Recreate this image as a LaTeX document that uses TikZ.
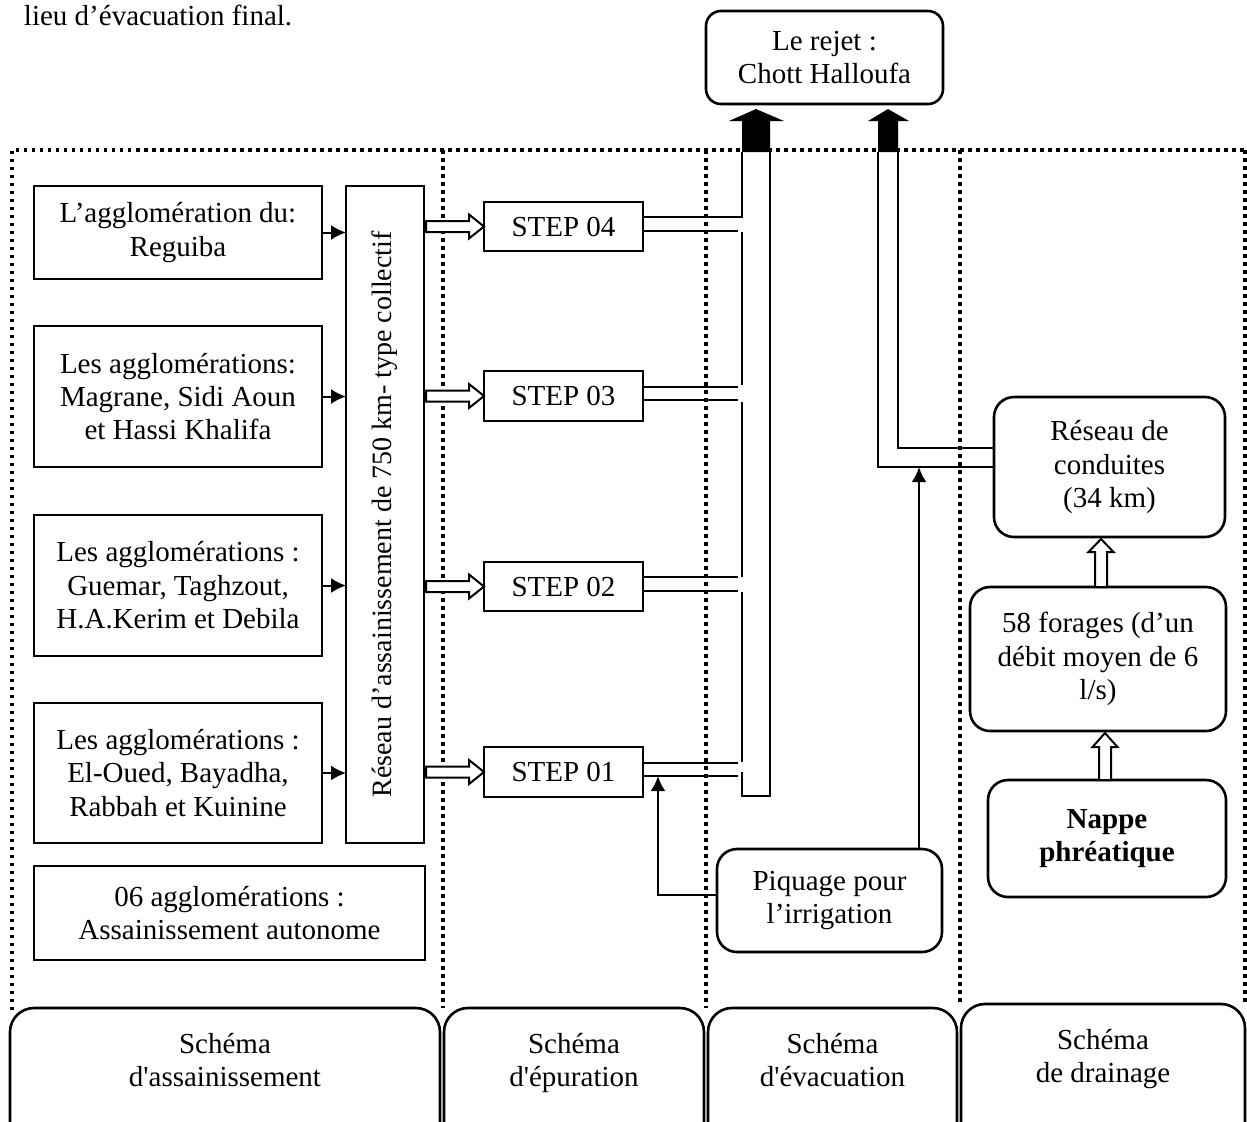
\documentclass[tikz,border=0pt]{standalone}
\usepackage{fontspec}
\setmainfont{Liberation Serif}
\usetikzlibrary{arrows.meta,calc}
\begin{document}
\begin{tikzpicture}[x=0.5pt,y=-0.5pt,
  every node/.style={font=\fontsize{14.5}{16.7}\selectfont, inner sep=0pt, outer sep=0pt, align=center},
  sq/.style={draw, line width=1pt},
  rbox/.style={draw, line width=1.3pt, rounded corners=10pt},
  frame/.style={line width=1.75pt, dash pattern=on 1.75pt off 2.25pt},
  pipe/.style={line width=1pt},
  arr/.style={line width=1.3pt, -{Latex[length=7.5pt,width=7.5pt]}},
  hollow/.style={draw, fill=white, line width=1pt},
  botbox/.style={draw, line width=1.3pt, rounded corners=12pt},
]
\useasboundingbox (0,0) rectangle (1247,1121);

% intro text
\node[anchor=base west, align=left] (intro) at (24,25) {lieu d’évacuation final.};

% dotted frame
\draw[frame] (12,1010) -- (12,150) -- (1247,150);
\draw[frame] (1245,150) -- (1245,1004);
\draw[frame] (443,150) -- (443,1008);
\draw[frame] (706,150) -- (706,1008);
\draw[frame] (960,150) -- (960,1004);

% top
\node[rbox, rounded corners=7.5pt, minimum width=118.5pt, minimum height=46.5pt] (rejet) at (824.5,57.5) {Le rejet :\\Chott Halloufa};

% left column
\node[sq, minimum width=144pt, minimum height=46.5pt] (b1) at (178,232.5) {L’agglomération du:\\Reguiba};
\node[sq, minimum width=144pt, minimum height=70.5pt] (b2) at (178,396.5) {Les agglomérations:\\Magrane, Sidi Aoun\\et Hassi Khalifa};
\node[sq, minimum width=144pt, minimum height=70.5pt] (b3) at (178,585.5) {Les agglomérations :\\Guemar, Taghzout,\\H.A.Kerim et Debila};
\node[sq, minimum width=144pt, minimum height=70pt] (b4) at (178,773) {Les agglomérations :\\El-Oued, Bayadha,\\Rabbah et Kuinine};
\node[sq, minimum width=195.5pt, minimum height=47pt] (b5) at (229.5,913) {06 agglomérations :\\Assainissement autonome};

\node[sq, minimum width=39pt, minimum height=328.5pt] (res) at (385,514.5) {};
\node[rotate=90, font=\fontsize{14}{16.7}\selectfont] (restxt) at (res.center) {Réseau d’assainissement de 750 km- type collectif};

\foreach \b in {b1,b2,b3,b4}
  \draw[arr, line width=1pt] (\b.east) -- (\b.east -| res.west);

% STEP boxes
\node[sq, minimum width=79.5pt, minimum height=24.5pt] (s4) at (563.5,226.5) {STEP 04};
\node[sq, minimum width=79.5pt, minimum height=25pt] (s3) at (563.5,396) {STEP 03};
\node[sq, minimum width=79.5pt, minimum height=24.5pt] (s2) at (563.5,586.5) {STEP 02};
\node[sq, minimum width=79.5pt, minimum height=25pt] (s1) at (563.5,772) {STEP 01};

\foreach \s in {s4,s3,s2,s1}
  \draw[hollow] ($(\s.west -| res.east)+(2,-5.5)$) -- ++(43,0) -- ++(0,-6.5) -- ++(15,12) -- ++(-15,12) -- ++(0,-6.5) -- ++(-43,0) -- cycle;

% collector 1
\draw[pipe] ($(s4.east)+(0,-9.5)$) -| (742,152);
\foreach \s in {s4,s3,s2,s1}
  \draw[pipe] ($(\s.east)+(0,4)$) -- ++(95,0);
\foreach \s in {s3,s2,s1}
  \draw[pipe] ($(\s.east)+(0,-9.5)$) -- ++(95,0);
\draw[pipe] (742,232) -- (742,385);
\draw[pipe] (742,402) -- (742,577);
\draw[pipe] (742,592) -- (742,762);
\draw[pipe] (742,772) -- (742,796) -- (770,796) -- (770,152);
\fill (742,152) -- (742,121) -- (729,121) -- (756,109) -- (784,121) -- (770,121) -- (770,152) -- cycle;

% drainage column
\node[rbox, minimum width=115.5pt, minimum height=70pt] (cond) at (1109.5,467) {Réseau de\\conduites\\(34 km)};
\node[rbox, minimum width=128pt, minimum height=72pt] (for) at (1098,659) {58 forages (d’un\\débit moyen de 6\\l/s)};
\node[rbox, minimum width=119pt, minimum height=58.5pt, font=\fontsize{14.5}{16.7}\selectfont\bfseries] (nappe) at (1107,838.5) {Nappe\\phréatique};

\draw[hollow] ($(for.north)+(-3,0)$) -- ++(0,-35) -- ++(-6.5,0) -- ++(12.5,-13) -- ++(12.5,13) -- ++(-6.5,0) -- ++(0,35) -- cycle;
\draw[hollow] ($(nappe.north)+(-8,0)$) -- ++(0,-33) -- ++(-6.5,0) -- ++(12.5,-14) -- ++(12.5,14) -- ++(-6.5,0) -- ++(0,33) -- cycle;

% collector 2
\draw[pipe] (878,152) |- (cond.west);
\draw[pipe] (898,152) |- ($(cond.west)+(0,-19)$);
\fill (878,152) -- (878,121) -- (868,121) -- (888,109) -- (909,121) -- (898,121) -- (898,152) -- cycle;

% piquage
\node[rbox, minimum width=112.5pt, minimum height=51.5pt] (piq) at (829.5,900.5) {Piquage pour\\l’irrigation};
\coordinate (pq) at (919,0);
\draw[arr] (piq.north -| pq) -- (pq |- cond.west);
\draw[arr] ($(piq.west)+(0,-5.5)$) -| ($(s1.east)+(15,4)$);

% bottom boxes
\draw[botbox] (10,1008) rectangle (440,1170);
\draw[botbox] (444,1008) rectangle (704,1170);
\draw[botbox] (708,1008) rectangle (957,1170);
\draw[botbox] (961,1004) rectangle (1245,1170);
\node[anchor=north] (t1) at (225,1033) {Schéma\\d\textquotesingle assainissement};
\node[anchor=north] (t2) at (574,1033) {Schéma\\d\textquotesingle épuration};
\node[anchor=north] (t3) at (832.5,1033) {Schéma\\d\textquotesingle évacuation};
\node[anchor=north] (t4) at (1103,1029) {Schéma\\de drainage};
\end{tikzpicture}
\end{document}
